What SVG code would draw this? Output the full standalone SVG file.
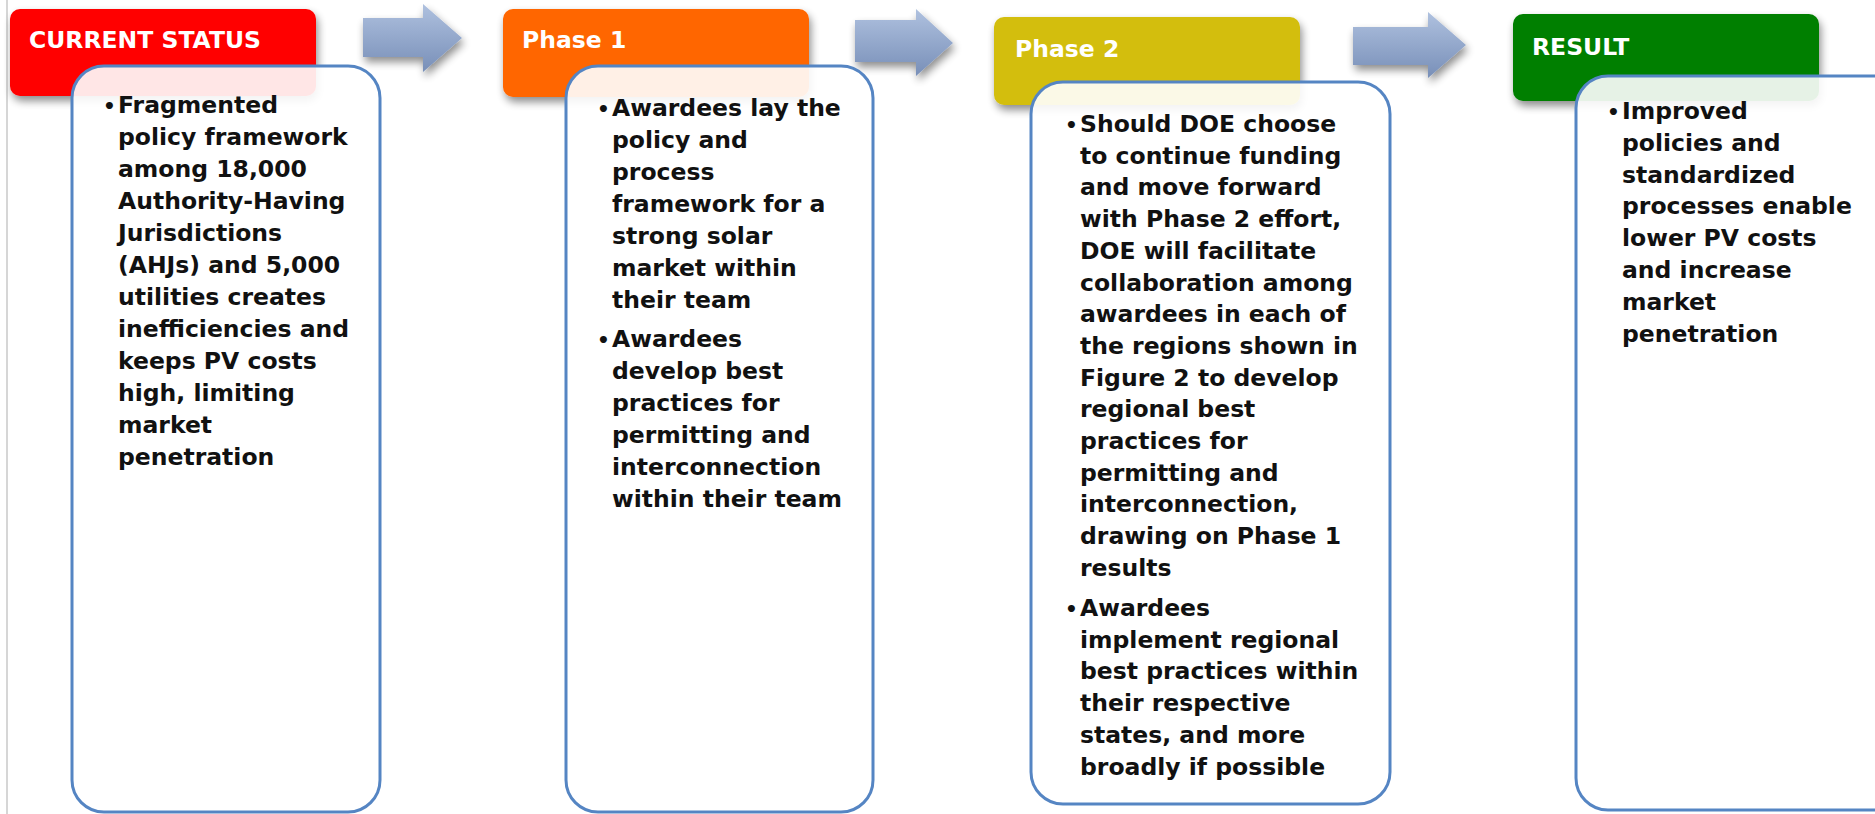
<svg xmlns="http://www.w3.org/2000/svg" width="1875" height="814" viewBox="0 0 1875 814">
<defs>
<linearGradient id="arrowGrad" x1="0" y1="0" x2="0" y2="1">
<stop offset="0" stop-color="#AFC1DF"/>
<stop offset="1" stop-color="#788FB8"/>
</linearGradient>
<filter id="shadow" x="-10%" y="-10%" width="130%" height="140%">
<feGaussianBlur in="SourceAlpha" stdDeviation="4"/>
<feOffset dx="2" dy="5" result="b"/>
<feComponentTransfer><feFuncA type="linear" slope="0.45"/></feComponentTransfer>
<feMerge><feMergeNode/><feMergeNode in="SourceGraphic"/></feMerge>
</filter>
<style>
.hdr{stroke:none;filter:url(#shadow)}
.hdrtxt{font-family:"DejaVu Sans","Liberation Sans",sans-serif;font-weight:bold;font-size:23.5px;fill:#ffffff}
.card{fill:#ffffff;fill-opacity:0.9;stroke:#5585C3;stroke-width:3}
.body{font-family:"DejaVu Sans","Liberation Sans",sans-serif;font-weight:bold;font-size:23.5px;fill:#111111}
.bul{font-size:20px}
.arrow{fill:url(#arrowGrad);filter:url(#shadow)}
</style>
</defs>
<rect width="1875" height="814" fill="#ffffff"/>
<line x1="7" y1="0" x2="7" y2="814" stroke="#C8C8C8" stroke-width="1.5"/>

<g id="connectors">
<polygon class="arrow" points="363,18 423,18 423,4 462,38 423,72 423,57 363,57"/>
<polygon class="arrow" points="855,20 916,20 916,9 953,43 916,76 916,62 855,62"/>
<polygon class="arrow" points="1353,27 1428,27 1428,12 1466,45 1428,78 1428,65 1353,65"/>
</g>

<g id="node-current-status">
<rect class="hdr" x="10" y="9" width="306" height="87" rx="10" fill="#FF0000"/>
<text class="hdrtxt" x="29" y="48">CURRENT STATUS</text>
<rect class="card" x="72" y="66" width="308" height="746" rx="32"/>
<text class="body">
<tspan class="bul" x="103" y="113">•</tspan><tspan x="118" y="113">Fragmented</tspan>
<tspan x="118" y="145">policy framework</tspan>
<tspan x="118" y="177">among 18,000</tspan>
<tspan x="118" y="209">Authority-Having</tspan>
<tspan x="118" y="241">Jurisdictions</tspan>
<tspan x="118" y="273">(AHJs) and 5,000</tspan>
<tspan x="118" y="305">utilities creates</tspan>
<tspan x="118" y="337">inefficiencies and</tspan>
<tspan x="118" y="369">keeps PV costs</tspan>
<tspan x="118" y="401">high, limiting</tspan>
<tspan x="118" y="433">market</tspan>
<tspan x="118" y="465">penetration</tspan>
</text>
</g>

<g id="node-phase1">
<rect class="hdr" x="503" y="9" width="306" height="88" rx="10" fill="#FF6600"/>
<text class="hdrtxt" x="522" y="48">Phase 1</text>
<rect class="card" x="566" y="66" width="307" height="746" rx="32"/>
<text class="body">
<tspan class="bul" x="597" y="116">•</tspan><tspan x="612" y="116">Awardees lay the</tspan>
<tspan x="612" y="148">policy and</tspan>
<tspan x="612" y="180">process</tspan>
<tspan x="612" y="212">framework for a</tspan>
<tspan x="612" y="244">strong solar</tspan>
<tspan x="612" y="276">market within</tspan>
<tspan x="612" y="308">their team</tspan>
<tspan class="bul" x="597" y="347">•</tspan><tspan x="612" y="347">Awardees</tspan>
<tspan x="612" y="379">develop best</tspan>
<tspan x="612" y="411">practices for</tspan>
<tspan x="612" y="443">permitting and</tspan>
<tspan x="612" y="475">interconnection</tspan>
<tspan x="612" y="507">within their team</tspan>
</text>
</g>

<g id="node-phase2">
<rect class="hdr" x="994" y="17" width="306" height="88" rx="10" fill="#D3BE0E"/>
<text class="hdrtxt" x="1015" y="57">Phase 2</text>
<rect class="card" x="1031" y="82" width="359" height="722" rx="32"/>
<text class="body">
<tspan class="bul" x="1065" y="132">•</tspan><tspan x="1080" y="132">Should DOE choose</tspan>
<tspan x="1080" y="163.7">to continue funding</tspan>
<tspan x="1080" y="195.4">and move forward</tspan>
<tspan x="1080" y="227.1">with Phase 2 effort,</tspan>
<tspan x="1080" y="258.8">DOE will facilitate</tspan>
<tspan x="1080" y="290.5">collaboration among</tspan>
<tspan x="1080" y="322.2">awardees in each of</tspan>
<tspan x="1080" y="353.9">the regions shown in</tspan>
<tspan x="1080" y="385.6">Figure 2 to develop</tspan>
<tspan x="1080" y="417.3">regional best</tspan>
<tspan x="1080" y="449">practices for</tspan>
<tspan x="1080" y="480.7">permitting and</tspan>
<tspan x="1080" y="512.4">interconnection,</tspan>
<tspan x="1080" y="544.1">drawing on Phase 1</tspan>
<tspan x="1080" y="575.8">results</tspan>
<tspan class="bul" x="1065" y="616">•</tspan><tspan x="1080" y="616">Awardees</tspan>
<tspan x="1080" y="647.7">implement regional</tspan>
<tspan x="1080" y="679.4">best practices within</tspan>
<tspan x="1080" y="711.1">their respective</tspan>
<tspan x="1080" y="742.8">states, and more</tspan>
<tspan x="1080" y="774.5">broadly if possible</tspan>
</text>
</g>

<g id="node-result">
<rect class="hdr" x="1513" y="14" width="306" height="87" rx="10" fill="#057F05"/>
<text class="hdrtxt" x="1532" y="55">RESULT</text>
<rect class="card" x="1576" y="76" width="330" height="734" rx="32"/>
<text class="body">
<tspan class="bul" x="1607" y="119">•</tspan><tspan x="1622" y="119">Improved</tspan>
<tspan x="1622" y="151">policies and</tspan>
<tspan x="1622" y="183">standardized</tspan>
<tspan x="1622" y="214">processes enable</tspan>
<tspan x="1622" y="246">lower PV costs</tspan>
<tspan x="1622" y="278">and increase</tspan>
<tspan x="1622" y="310">market</tspan>
<tspan x="1622" y="342">penetration</tspan>
</text>
</g>
</svg>
